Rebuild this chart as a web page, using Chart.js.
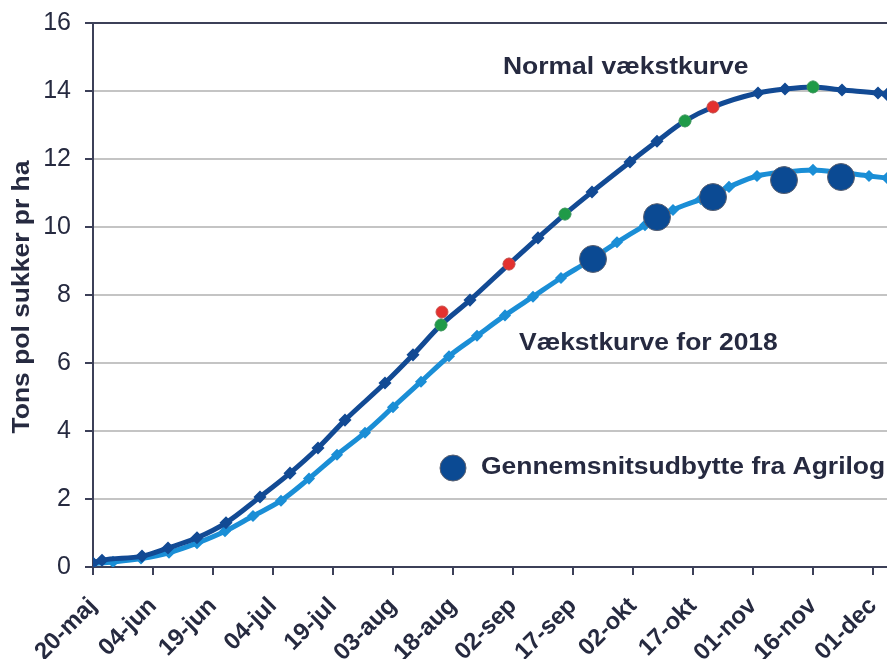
<!DOCTYPE html>
<html>
<head>
<meta charset="utf-8">
<script src="https://cdn.jsdelivr.net/npm/chart.js@4"></script>
<style>
  body { margin: 0; background: #fff; overflow: hidden; }
  canvas { display: block; }
</style>
</head>
<body>
<canvas id="myChart" width="887" height="659"></canvas>
<script>
// x axis: days after 20-maj
const tickDays = [0, 15, 30, 45, 60, 75, 90, 105, 120, 135, 150, 165, 180, 195];
const tickLabels = ['20-maj', '04-jun', '19-jun', '04-jul', '19-jul', '03-aug', '18-aug',
  '02-sep', '17-sep', '02-okt', '17-okt', '01-nov', '16-nov', '01-dec'];

// Normal vækstkurve
const normalDays = [0, 2.25, 12.25, 18.75, 26, 33.25, 41.75, 49.25, 56.25, 63, 73, 80, 87, 94.25,
  104, 111.25, 118, 124.75, 134.25, 141, 148, 155, 166.25, 173, 180, 187.25, 196.25, 198.5];
const normalValues = [0.12, 0.2, 0.32, 0.56, 0.86, 1.3, 2.06, 2.76, 3.5, 4.32, 5.41, 6.24, 7.12, 7.85,
  8.91, 9.68, 10.38, 11.03, 11.91, 12.52, 13.12, 13.53, 13.94, 14.06, 14.12, 14.03, 13.94, 13.9];

// Vækstkurve for 2018
const curve2018Days = [0, 5, 12, 19, 26, 33, 40, 47, 54, 61, 68, 75, 82, 89, 96, 103, 110, 117,
  124, 131, 138, 145, 152, 159, 166, 173, 180, 187, 194, 198.5];
const curve2018Values = [0.1, 0.15, 0.25, 0.42, 0.7, 1.05, 1.5, 1.95, 2.6, 3.3, 3.95, 4.7, 5.45, 6.2,
  6.8, 7.4, 7.95, 8.5, 9.0, 9.55, 10.05, 10.5, 10.82, 11.18, 11.5, 11.62, 11.68, 11.6, 11.5, 11.44];

// Gennemsnitsudbytte fra Agrilog
const agrilogDays = [125, 141, 155, 172.75, 187];
const agrilogValues = [9.06, 10.29, 10.88, 11.38, 11.47];

// red and green points on the normal curve
const redDays = [87.25, 104, 155];
const redValues = [7.5, 8.91, 13.53];
const greenDays = [87, 118, 148, 180];
const greenValues = [7.12, 10.38, 13.12, 14.12];

const normalLabel = 'Normal vækstkurve';
const label2018 = 'Vækstkurve for 2018';
const agrilogLabel = 'Gennemsnitsudbytte fra Agrilog';
const yTitle = 'Tons pol sukker pr ha';

const darkBlue = '#124a94';
const lightBlue = '#1a8ed6';
const textColor = '#262a40';
const axisColor = '#3c4058';

function toPoints(days, values) {
  return days.map((d, i) => ({ x: d, y: values[i] }));
}

function drawLabel(c, text, x, y, align, angle) {
  c.save();
  c.translate(x, y);
  c.rotate(angle);
  c.scale(1.15, 1);
  c.font = 'bold 23px "Liberation Sans", Arial, sans-serif';
  c.fillStyle = textColor;
  c.textBaseline = 'middle';
  c.textAlign = align;
  c.fillText(text, 0, 0);
  c.restore();
}

const textPlugin = {
  id: 'textPlugin',
  afterDraw(chart) {
    const c = chart.ctx;
    drawLabel(c, normalLabel, 503, 68, 'left', 0);
    drawLabel(c, label2018, 519, 344, 'left', 0);
    drawLabel(c, agrilogLabel, 481, 468, 'left', 0);
    drawLabel(c, yTitle, 23, 297, 'center', -Math.PI / 2);
    // legend marker
    c.save();
    c.beginPath();
    c.arc(453, 468, 13, 0, Math.PI * 2);
    c.fillStyle = '#0b4a93';
    c.fill();
    c.lineWidth = 1;
    c.strokeStyle = '#5a6070';
    c.stroke();
    c.restore();
  }
};

Chart.defaults.font.family = '"Liberation Sans", Arial, sans-serif';

const ctx = document.getElementById('myChart');
const myChart = new Chart(ctx, {
  type: 'line',
  data: {
    datasets: [
      {
        label: 'red',
        data: toPoints(redDays, redValues),
        showLine: false,
        pointRadius: 6,
        pointBackgroundColor: '#e3312f',
        pointBorderColor: '#c9504a',
        pointBorderWidth: 1,
        order: 0
      },
      {
        label: 'green',
        data: toPoints(greenDays, greenValues),
        showLine: false,
        pointRadius: 6,
        pointBackgroundColor: '#1f9a48',
        pointBorderColor: '#3f9a5a',
        pointBorderWidth: 1,
        order: 0
      },
      {
        label: agrilogLabel,
        data: toPoints(agrilogDays, agrilogValues),
        showLine: false,
        pointRadius: 13.5,
        pointBackgroundColor: '#0b4a93',
        pointBorderColor: '#5a6070',
        pointBorderWidth: 1,
        order: 1
      },
      {
        label: normalLabel,
        data: toPoints(normalDays, normalValues),
        borderColor: darkBlue,
        backgroundColor: darkBlue,
        borderWidth: 5,
        pointStyle: 'rectRot',
        pointRadius: 3,
        cubicInterpolationMode: 'monotone',
        order: 2
      },
      {
        label: label2018,
        data: toPoints(curve2018Days, curve2018Values),
        borderColor: lightBlue,
        backgroundColor: lightBlue,
        borderWidth: 5,
        pointStyle: 'rectRot',
        pointRadius: 2.5,
        cubicInterpolationMode: 'monotone',
        order: 3
      }
    ]
  },
  options: {
    responsive: false,
    animation: false,
    layout: { autoPadding: false, padding: { left: 0, right: 0, top: 23, bottom: 0 } },
    plugins: {
      legend: { display: false },
      tooltip: { enabled: false }
    },
    scales: {
      x: {
        type: 'linear',
        min: 0,
        max: 198.5,
        afterBuildTicks: (scale) => { scale.ticks = tickDays.map(v => ({ value: v })); },
        ticks: {
          autoSkip: false,
          minRotation: 45,
          maxRotation: 45,
          padding: 17,
          color: textColor,
          font: { size: 24, weight: 'bold' },
          callback: (value, index) => tickLabels[index]
        },
        grid: {
          drawOnChartArea: false,
          drawTicks: true,
          tickLength: 8,
          color: axisColor,
          lineWidth: 2
        },
        border: { display: true, color: axisColor, width: 2 },
        afterFit: (scale) => {
          scale.height = 92;
          scale.paddingLeft = 0;
          scale.paddingRight = 0;
        }
      },
      y: {
        min: 0,
        max: 16,
        ticks: {
          stepSize: 2,
          padding: 14,
          color: textColor,
          font: { size: 25 }
        },
        grid: {
          color: (c) => (c.tick.value === 16 || c.tick.value === 0) ? axisColor : '#c4c4c4',
          lineWidth: 2,
          tickColor: axisColor,
          tickLength: 8
        },
        border: { display: true, color: axisColor, width: 2 },
        afterFit: (scale) => {
          scale.width = 93;
          scale.paddingTop = 0;
          scale.paddingBottom = 0;
        }
      }
    }
  },
  plugins: [textPlugin]
});
</script>
</body>
</html>
